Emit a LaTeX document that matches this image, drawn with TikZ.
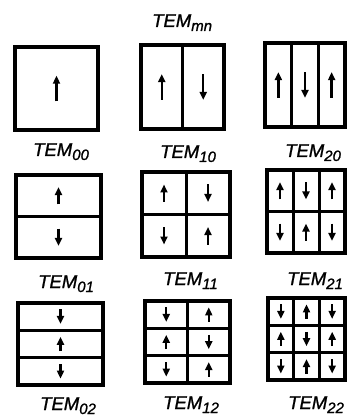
\documentclass[tikz,border=0pt]{standalone}
\usepackage{fontspec}
\setmainfont{Liberation Sans}
\newfontfamily\labfont{Liberation Sans}[ItalicFeatures={FakeBold=1.2}]
\usetikzlibrary{arrows.meta}
\newcommand\tem[1]{\labfont\itshape\fontsize{18.5}{18.5}\selectfont TEM\raisebox{-4pt}{\fontsize{15}{15}\selectfont #1}}
\tikzset{
  boxline/.style={line width=3.4pt},
  gridline/.style={line width=3pt},
  modearrow/.style={line width=2.4pt,-{Triangle[length=8pt,width=7pt]}},
  lab/.style={anchor=base west,inner sep=0pt}
}
\newcommand\modebox[7]{%
  \pgfmathsetmacro\cw{(#3-#1)/#5}%
  \pgfmathsetmacro\ch{(#4-#2)/#6}%
  \pgfmathsetmacro\alen{0.2*\ch+9}%
  \foreach \i in {1,...,#5}{\foreach \j in {1,...,#6}{%
    \pgfmathsetmacro\dir{#7*(1-2*mod(\i+\j,2))}%
    \pgfmathsetmacro\cx{#1+(\i-0.5)*\cw}%
    \pgfmathsetmacro\cy{#2+(\j-0.5)*\ch}%
    \draw[modearrow] (\cx,\cy+\dir*\alen/2) -- (\cx,\cy-\dir*\alen/2);
  }}%
  \ifnum#5>1 \pgfmathtruncatemacro\nc{#5-1}%
    \foreach \k in {1,...,\nc}{\draw[gridline] (#1+\k*\cw,#2) -- (#1+\k*\cw,#4);}\fi
  \ifnum#6>1 \pgfmathtruncatemacro\nr{#6-1}%
    \foreach \k in {1,...,\nr}{\draw[gridline] (#1,#2+\k*\ch) -- (#3,#2+\k*\ch);}\fi
  \draw[boxline] (#1,#2) rectangle (#3,#4);
}
\begin{document}
\begin{tikzpicture}[x=1pt,y=-1pt]
\useasboundingbox (0,0) rectangle (347,419);
\node[lab] (tmn) at (152,27) {\tem{mn}};
% row 1
\modebox{15}{47}{98}{130}{1}{1}{1}
\modebox{141}{45}{224}{129}{2}{1}{1}
\modebox{265}{43}{345}{127}{3}{1}{1}
\node[lab] (t00) at (33,156) {\tem{00}};
\node[lab] (t10) at (160,158) {\tem{10}};
\node[lab] (t20) at (285,157) {\tem{20}};
% row 2
\modebox{16}{175}{101}{258}{1}{2}{1}
\modebox{142}{172}{230}{257}{2}{2}{1}
\modebox{267}{170}{345}{253}{3}{2}{1}
\node[lab] (t01) at (38,288) {\tem{01}};
\node[lab] (t11) at (163,285) {\tem{11}};
\node[lab] (t21) at (287,285) {\tem{21}};
% row 3
\modebox{18}{303}{103}{385}{1}{3}{-1}
\modebox{145}{301}{230}{383}{2}{3}{-1}
\modebox{268}{298}{345}{380}{3}{3}{-1}
\node[lab] (t02) at (40,410) {\tem{02}};
\node[lab] (t12) at (163,409) {\tem{12}};
\node[lab] (t22) at (288,409) {\tem{22}};
\end{tikzpicture}
\end{document}
